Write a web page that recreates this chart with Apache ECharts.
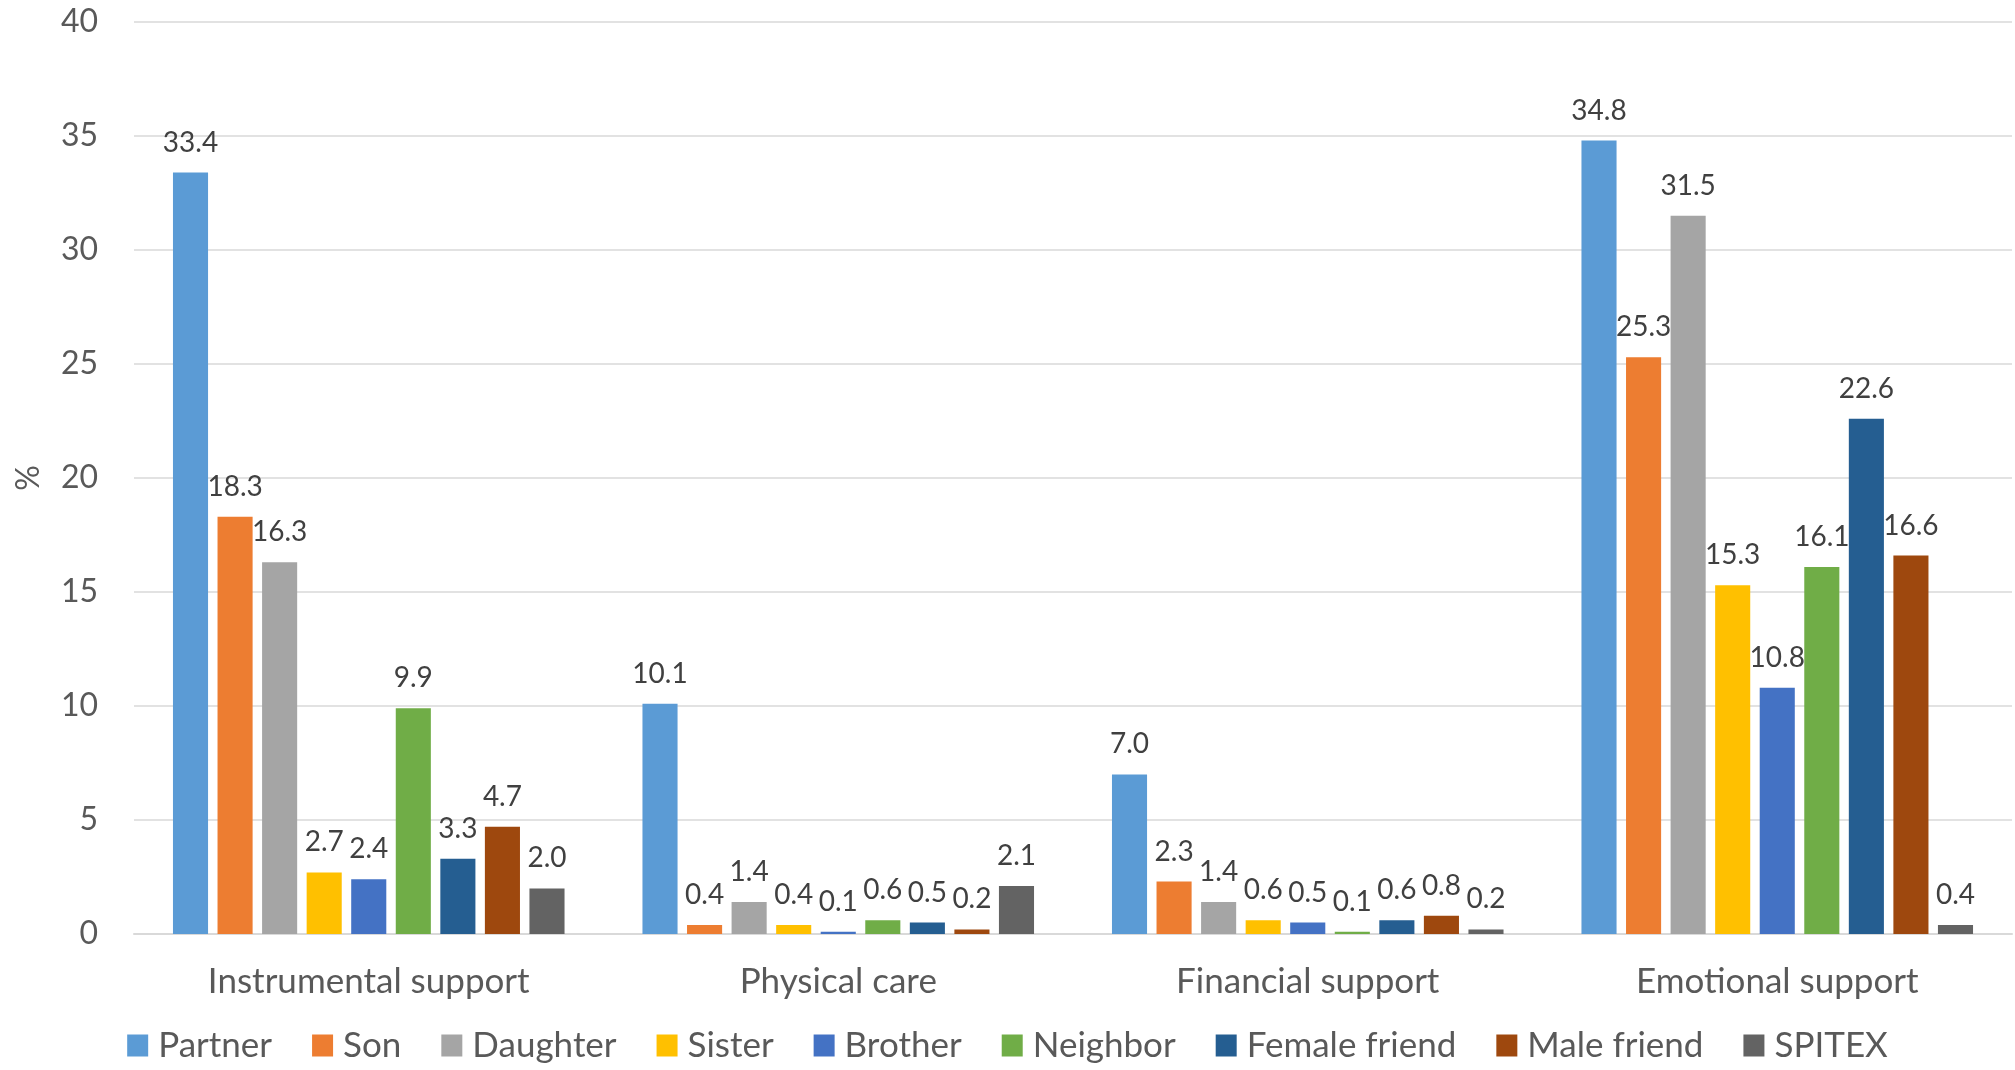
<!DOCTYPE html>
<html>
<head>
<meta charset="utf-8">
<script src="https://cdn.jsdelivr.net/npm/echarts@6/dist/echarts.min.js"></script>
<style>
  html, body { margin: 0; padding: 0; background: #ffffff; }
  #chart { width: 2015px; height: 1070px; }
</style>
</head>
<body>
<div id="chart"></div>
<script>
// Support types on the x axis
const categories = ['Instrumental support', 'Physical care', 'Financial support', 'Emotional support'];

// Share (%) receiving each type of support, by provider
const partner      = [33.4, 10.1, 7.0, 34.8];
const son          = [18.3, 0.4, 2.3, 25.3];
const daughter     = [16.3, 1.4, 1.4, 31.5];
const sister       = [2.7, 0.4, 0.6, 15.3];
const brother      = [2.4, 0.1, 0.5, 10.8];
const neighbor     = [9.9, 0.6, 0.1, 16.1];
const femaleFriend = [3.3, 0.5, 0.6, 22.6];
const maleFriend   = [4.7, 0.2, 0.8, 16.6];
const spitex       = [2.0, 2.1, 0.2, 0.4];

const providers = ['Partner', 'Son', 'Daughter', 'Sister', 'Brother', 'Neighbor', 'Female friend', 'Male friend', 'SPITEX'];
const providerValues = [partner, son, daughter, sister, brother, neighbor, femaleFriend, maleFriend, spitex];
const providerColors = ['#5B9BD5', '#ED7D31', '#A5A5A5', '#FFC000', '#4472C4', '#70AD47', '#255E91', '#9E480E', '#636363'];

const FONT = 'Lato';

const series = providers.map((name, i) => ({
  name: name,
  type: 'bar',
  data: providerValues[i],
  barGap: '27%',
  barCategoryGap: '16.6%',
  itemStyle: { color: providerColors[i] },
  label: {
    show: true,
    position: 'top',
    distance: 16,
    fontFamily: FONT,
    fontSize: 28,
    color: '#404040',
    formatter: p => p.value.toFixed(1)
  }
}));

const chart = echarts.init(document.getElementById('chart'), null, { renderer: 'canvas' });
chart.setOption({
  animation: false,
  backgroundColor: '#ffffff',
  grid: { left: 134, right: 3, top: 22, bottom: 136, containLabel: false },
  legend: {
    data: providers,
    bottom: 2,
    left: 'center',
    itemWidth: 21,
    itemHeight: 22,
    itemGap: 40,
    icon: 'rect',
    textStyle: { fontFamily: FONT, fontSize: 35, color: '#595959', padding: [0, 0, 0, 5] }
  },
  xAxis: {
    type: 'category',
    data: categories,
    axisLine: { lineStyle: { color: '#d9d9d9', width: 2 } },
    axisTick: { show: false },
    axisLabel: { fontFamily: FONT, fontSize: 35, color: '#595959', margin: 30 }
  },
  yAxis: {
    type: 'value',
    min: 0,
    max: 40,
    interval: 5,
    name: '%',
    nameLocation: 'middle',
    nameGap: 89,
    nameRotate: 90,
    nameTextStyle: { fontFamily: FONT, fontSize: 32, color: '#595959' },
    axisLine: { show: false },
    axisTick: { show: false },
    axisLabel: { fontFamily: FONT, fontSize: 32, color: '#595959', margin: 36 },
    splitLine: { lineStyle: { color: '#d9d9d9', width: 1.5 } }
  },
  series: series
});
</script>
</body>
</html>
